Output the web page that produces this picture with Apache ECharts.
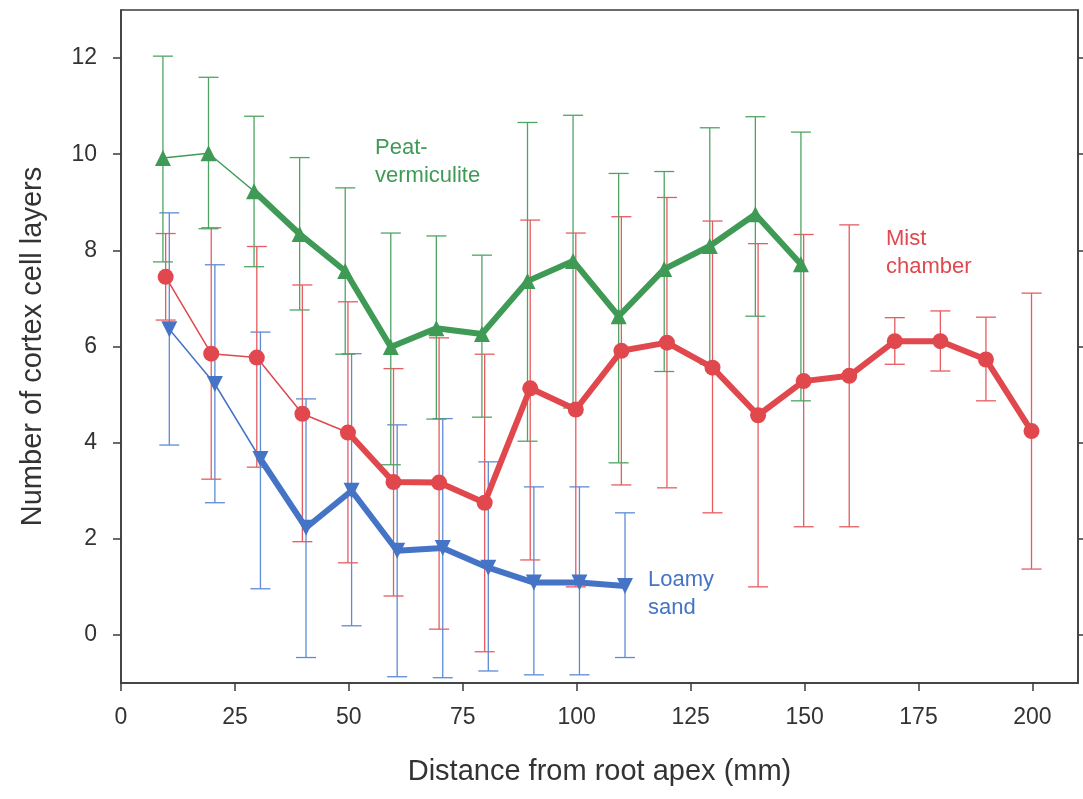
<!DOCTYPE html>
<html>
<head>
<meta charset="utf-8">
<script src="https://cdn.jsdelivr.net/npm/echarts@6/dist/echarts.min.js"></script>
<style>html,body{margin:0;padding:0;background:#fff}#c{width:1083px;height:799px}</style>
</head>
<body>
<div id="c"></div>
<script>
// ---- data ----
const xTicks = [0, 25, 50, 75, 100, 125, 150, 175, 200];
const yTicks = [0, 2, 4, 6, 8, 10, 12];

const peatX  = [9.2, 19.2, 29.2, 39.2, 49.2, 59.2, 69.2, 79.2, 89.2, 99.2, 109.2, 119.2, 129.2, 139.2, 149.2];
const peatY  = [9.92, 10.02, 9.23, 8.34, 7.57, 5.99, 6.38, 6.26, 7.36, 7.78, 6.63, 7.61, 8.09, 8.75, 7.71];
const peatHi = [12.04, 11.6, 10.79, 9.93, 9.30, 8.36, 8.30, 7.9, 10.66, 10.81, 9.6, 9.64, 10.55, 10.78, 10.46];
const peatLo = [7.76, 8.45, 7.66, 6.76, 5.84, 3.54, 4.49, 4.53, 4.03, 4.72, 3.58, 5.48, 5.63, 6.63, 4.87];

const mistX  = [9.8, 19.8, 29.8, 39.8, 49.8, 59.8, 69.8, 79.8, 89.8, 99.8, 109.8, 119.8, 129.8, 139.8, 149.8, 159.8, 169.8, 179.8, 189.8, 199.8];
const mistY  = [7.45, 5.85, 5.77, 4.60, 4.21, 3.18, 3.17, 2.75, 5.13, 4.69, 5.91, 6.08, 5.56, 4.57, 5.28, 5.39, 6.11, 6.11, 5.73, 4.24];
const mistHi = [8.35, 8.47, 8.08, 7.28, 6.93, 5.54, 6.18, 5.84, 8.63, 8.36, 8.70, 9.10, 8.61, 8.14, 8.33, 8.53, 6.60, 6.74, 6.61, 7.11];
const mistLo = [6.55, 3.24, 3.49, 1.94, 1.50, 0.81, 0.12, -0.35, 1.56, 1.0, 3.12, 3.06, 2.54, 1.0, 2.25, 2.25, 5.63, 5.49, 4.87, 1.37];

const loamX  = [10.6, 20.6, 30.6, 40.6, 50.6, 60.6, 70.6, 80.6, 90.6, 100.6, 110.6];
const loamY  = [6.36, 5.22, 3.66, 2.23, 3.0, 1.75, 1.81, 1.40, 1.09, 1.09, 1.02];
const loamHi = [8.78, 7.70, 6.30, 4.91, 5.85, 4.37, 4.50, 3.60, 3.08, 3.08, 2.54];
const loamLo = [3.95, 2.75, 0.96, -0.47, 0.19, -0.87, -0.89, -0.75, -0.83, -0.83, -0.47];

// index where the thin segment changes to the thick line
const peatThinEnd = 2, mistThinEnd = 4, loamThinEnd = 2;

// ---- styles ----
const C = {
  peat: {line: '#3f9a56', err: '#4fa464'},
  mist: {line: '#e0484e', err: '#e65c60'},
  loam: {line: '#4574c6', err: '#5d8bd6'}
};
const FONT = '"Liberation Sans", Arial, sans-serif';

function pts(xs, ys) { return xs.map((x, i) => [x, ys[i]]); }
function errs(xs, lo, hi) { return xs.map((x, i) => [x, lo[i], hi[i]]); }

function errSeries(name, xs, lo, hi, color) {
  return {
    type: 'custom', name: name, z: 2,
    data: errs(xs, lo, hi),
    encode: {x: 0, y: [1, 2]},
    renderItem: function (params, api) {
      const x = api.value(0);
      const a = api.coord([x, api.value(2)]);
      const b = api.coord([x, api.value(1)]);
      const w = 10;
      const st = {stroke: color, lineWidth: 1.3};
      return {type: 'group', children: [
        {type: 'line', shape: {x1: a[0], y1: a[1], x2: b[0], y2: b[1]}, style: st},
        {type: 'line', shape: {x1: a[0] - w, y1: a[1], x2: a[0] + w, y2: a[1]}, style: st},
        {type: 'line', shape: {x1: b[0] - w, y1: b[1], x2: b[0] + w, y2: b[1]}, style: st}
      ]};
    },
    silent: true, clip: false
  };
}
function lineSeries(xs, ys, from, to, width, color, z) {
  return {
    type: 'line', z: z, data: pts(xs.slice(from, to), ys.slice(from, to)),
    showSymbol: false, lineStyle: {color: color, width: width}, silent: true, animation: false
  };
}
function markSeries(xs, ys, symbol, size, rotate, color, z) {
  return {
    type: 'scatter', z: z, data: pts(xs, ys), symbol: symbol, symbolSize: size,
    symbolRotate: rotate, itemStyle: {color: color, opacity: 1}, silent: true, animation: false
  };
}

const chart = echarts.init(document.getElementById('c'), null, {renderer: 'canvas'});
const axisLine = {show: true, onZero: false, lineStyle: {color: '#3a3a3a', width: 1.5}};
const tickStyle = {color: '#3a3a3a', width: 1.5};
const option = {
  animation: false,
  backgroundColor: '#fff',
  grid: {left: 121, right: 5, top: 10, bottom: 116, show: true, borderColor: '#3a3a3a', borderWidth: 1.5, containLabel: false},
  xAxis: {
    type: 'value', min: 0, max: 210, interval: 25,
    name: 'Distance from root apex (mm)', nameLocation: 'middle', nameGap: 74,
    nameTextStyle: {fontFamily: FONT, fontSize: 29, color: '#333'},
    axisLine: axisLine,
    axisTick: {show: true, inside: false, length: 8, customValues: xTicks, lineStyle: tickStyle},
    axisLabel: {customValues: xTicks, margin: 23, fontFamily: FONT, fontSize: 23, color: '#333'},
    splitLine: {show: false}
  },
  yAxis: [{
    type: 'value', min: -1, max: 13,
    name: 'Number of cortex cell layers', nameLocation: 'middle', nameGap: 74,
    nameTextStyle: {fontFamily: FONT, fontSize: 29, color: '#333'},
    axisLine: axisLine,
    axisTick: {show: true, inside: false, length: 8, customValues: yTicks, lineStyle: tickStyle},
    axisLabel: {customValues: yTicks, margin: 24, fontFamily: FONT, fontSize: 23, color: '#333'},
    splitLine: {show: false}
  }, {
    type: 'value', min: -1, max: 13, position: 'right',
    axisLine: axisLine,
    axisTick: {show: true, inside: false, length: 8, customValues: yTicks, lineStyle: tickStyle},
    axisLabel: {show: false},
    splitLine: {show: false}
  }],
  series: [
    errSeries('loam-err', loamX, loamLo, loamHi, C.loam.err),
    errSeries('mist-err', mistX, mistLo, mistHi, C.mist.err),
    errSeries('peat-err', peatX, peatLo, peatHi, C.peat.err),
    lineSeries(loamX, loamY, 0, loamThinEnd + 1, 1.5, C.loam.line, 3),
    lineSeries(loamX, loamY, loamThinEnd, loamX.length, 6, C.loam.line, 3),
    markSeries(loamX, loamY, 'triangle', 16, 180, C.loam.line, 4),
    lineSeries(mistX, mistY, 0, mistThinEnd + 1, 1.5, C.mist.line, 5),
    lineSeries(mistX, mistY, mistThinEnd, mistX.length, 6, C.mist.line, 5),
    markSeries(mistX, mistY, 'circle', 16, 0, C.mist.line, 6),
    lineSeries(peatX, peatY, 0, peatThinEnd + 1, 1.5, C.peat.line, 7),
    lineSeries(peatX, peatY, peatThinEnd, peatX.length, 6, C.peat.line, 7),
    markSeries(peatX, peatY, 'triangle', 16, 0, C.peat.line, 8)
  ],
  graphic: [
    {type: 'text', left: 375, top: 134, z: 20, style: {text: 'Peat-\nvermiculite', fill: C.peat.line, font: '22px ' + FONT, lineHeight: 28}},
    {type: 'text', left: 886, top: 225, z: 20, style: {text: 'Mist\nchamber', fill: C.mist.line, font: '22px ' + FONT, lineHeight: 28}},
    {type: 'text', left: 648, top: 566, z: 20, style: {text: 'Loamy\nsand', fill: C.loam.line, font: '22px ' + FONT, lineHeight: 28}}
  ]
};
chart.setOption(option);
</script>
</body>
</html>
